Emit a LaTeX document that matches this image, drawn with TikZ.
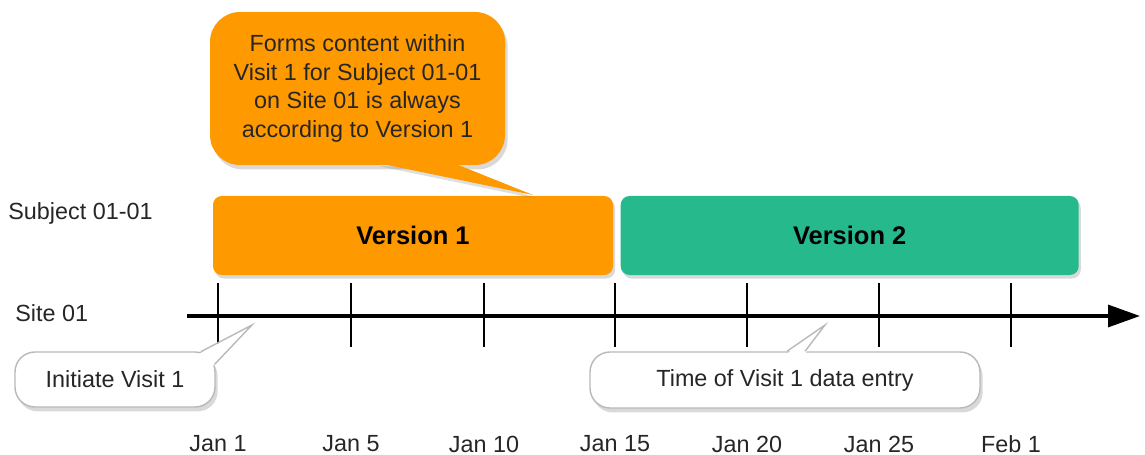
\documentclass[tikz,border=0pt]{standalone}
\usepackage{fontspec}
\setmainfont{Liberation Sans}
\usepackage{tikz}
\usetikzlibrary{arrows.meta, positioning, calc, shadows}
\definecolor{verorange}{RGB}{255,153,0}
\definecolor{vergreen}{RGB}{37,185,140}
\definecolor{bubblegray}{RGB}{185,185,185}

\begin{document}
\begin{tikzpicture}[
    txt/.style={font=\fontsize{13.3}{16.2}\selectfont, text=black!85, inner sep=0pt},
    version/.style={rounded corners=5pt, minimum height=1.58cm, inner sep=0pt, font=\fontsize{14.5}{17}\selectfont\bfseries,
      drop shadow={opacity=0.3, shadow xshift=1.2pt, shadow yshift=-2pt}},
    note/.style={txt, fill=verorange, rounded corners=0.6cm, align=center,
      drop shadow={opacity=0.3, shadow xshift=1.5pt, shadow yshift=-2.5pt}},
    bubble/.style={txt, fill=white, draw=bubblegray, line width=0.8pt, rounded corners=0.4cm,
      drop shadow={opacity=0.3, shadow xshift=1.5pt, shadow yshift=-2.5pt}},
    ptredge/.style={draw=bubblegray, line width=0.8pt},
    axis/.style={line width=1.8pt, -{Triangle[length=0.64cm, width=0.44cm]}},
    tickline/.style={line width=1.6pt},
  ]
  \useasboundingbox (0,0) rectangle (22.9,-9.1);
  % row labels
  \node[txt, anchor=west] (subj) at (0.16,-4.26) {Subject 01-01};
  \node[txt, anchor=west] (site) at (0.30,-6.26) {Site 01};
  % version bars
  \node[version, fill=verorange, minimum width=8.0cm] (v1) at (8.26,-4.71) {Version 1};
  \node[version, fill=vergreen, minimum width=9.16cm, right=0.14cm of v1] (v2) {Version 2};
  % time line
  \coordinate (axstart) at (3.74,-6.32);
  \coordinate (axend) at (22.8,-6.32);
  \draw[axis] (axstart) -- (axend);
  \foreach \i/\x/\d in {1/4.36/Jan 1,2/7.02/Jan 5,3/9.68/Jan 10,4/12.30/Jan 15,5/14.94/Jan 20,6/17.58/Jan 25,7/20.22/Feb 1} {
    \coordinate (t\i) at (\x,-6.32);
    \draw[tickline] ($(t\i)+(0,0.66)$) -- ($(t\i)+(0,-0.62)$);
    \node[txt] (d\i) at (\x,-8.88) {\d};
  }
  % orange note
  \node[note, minimum width=5.9cm, minimum height=3.06cm] (fc) at (7.15,-1.77)
    {Forms content within\\Visit 1 for Subject 01-01\\on Site 01 is always\\according to Version 1};
  \coordinate (fctip) at (10.66,-3.9);
  \fill[verorange, drop shadow={opacity=0.25, shadow xshift=1.5pt, shadow yshift=-2pt}]
    ($(fc.south)+(0.39,0.05)$) -- (fctip) -- ($(fc.south)+(1.91,0.05)$) -- cycle;
  % callouts
  \node[bubble, minimum width=4.0cm, minimum height=1.1cm] (init) at (2.30,-7.59) {Initiate Visit 1};
  \coordinate (inittip) at (5.04,-6.50);
  \fill[white] ($(init.north east)+(-0.33,-0.05)$) -- (inittip) -- ($(init.north east)+(-0.05,-0.29)$) -- cycle;
  \draw[ptredge] ($(init.north east)+(-0.30,-0.01)$) -- (inittip) -- ($(init.north east)+(-0.024,-0.263)$);
  \node[bubble, minimum width=7.8cm, minimum height=1.12cm] (entry) at (15.70,-7.60) {Time of Visit 1 data entry};
  \coordinate (entrytip) at (16.50,-6.50);
  \fill[white] ($(entry.north)+(0.04,-0.05)$) -- (entrytip) -- ($(entry.north)+(0.40,-0.05)$) -- cycle;
  \draw[ptredge] ($(entry.north)+(0.04,0)$) -- (entrytip) -- ($(entry.north)+(0.40,0)$);
\end{tikzpicture}
\end{document}
